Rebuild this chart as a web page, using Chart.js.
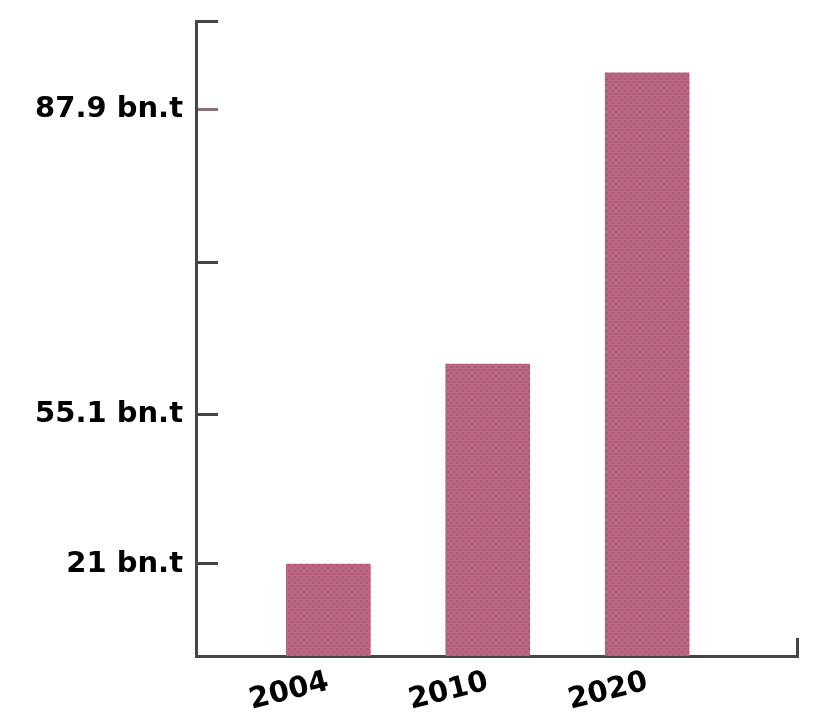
<!DOCTYPE html>
<html>
<head>
<meta charset="utf-8">
<script src="https://cdn.jsdelivr.net/npm/chart.js@4"></script>
<style>
  html, body { margin: 0; padding: 0; background: #fff; }
  #c { display: block; }
</style>
</head>
<body>
<canvas id="c" width="814" height="714"></canvas>
<script>
// data (y in the drawn scale units: 21 bn.t = 21)
const years = ['2004', '2010', '2020'];
const barValues = [21, 66.6, 133.1];
const yTickValues = [21, 55.1, 89.9, 124.6];
const yTickLabels = ['21 bn.t', '55.1 bn.t', '', '87.9 bn.t'];
const yMax = 144.9;
const xMin = -0.83, xMax = 2.94;

// dotted mauve fill like the print texture
function dotPattern() {
  const p = document.createElement('canvas');
  p.width = 6; p.height = 6;
  const g = p.getContext('2d');
  g.fillStyle = '#bb6784';
  g.fillRect(0, 0, 6, 6);
  g.fillStyle = '#a9566f';
  g.fillRect(0, 0, 2, 2);
  g.fillRect(3, 3, 2, 2);
  return g.createPattern(p, 'repeat');
}

const axisColor = '#474447';

new Chart(document.getElementById('c'), {
  type: 'bar',
  data: {
    datasets: [{
      data: barValues.map((v, i) => ({ x: i, y: v })),
      backgroundColor: dotPattern(),
      borderWidth: 0,
      barThickness: 84,
    }],
  },
  options: {
    responsive: false,
    animation: false,
    devicePixelRatio: 1,
    layout: { padding: { top: 21, right: 17, left: 32, bottom: 0 } },
    plugins: { legend: { display: false }, tooltip: { enabled: false } },
    scales: {
      x: {
        type: 'linear',
        offset: false,
        min: xMin, max: xMax,
        afterBuildTicks: s => { s.ticks = [0, 1, 2, xMax].map(v => ({ value: v })); },
        afterFit: s => { s.height = 58; s.paddingLeft = 0; s.paddingRight = 0; },
        border: { display: true, color: axisColor, width: 3 },
        grid: {
          offset: false,
          drawOnChartArea: false,
          tickLength: -18,
          tickWidth: 3,
          tickColor: ctx => ctx.index === 3 ? axisColor : 'rgba(0,0,0,0)',
        },
        ticks: {
          autoSkip: false,
          minRotation: 14, maxRotation: 14,
          padding: 27,
          color: '#000',
          font: { family: 'DejaVu Sans', weight: 'bold', size: 29 },
          callback: (v, i) => years[i] ?? '',
        },
      },
      y: {
        min: 0, max: yMax,
        afterBuildTicks: s => { s.ticks = yTickValues.concat(yMax).map(v => ({ value: v })); },
        afterFit: s => { s.width = 164; s.paddingTop = 0; s.paddingBottom = 0; },
        border: { display: true, color: axisColor, width: 3 },
        grid: {
          drawOnChartArea: false,
          tickLength: -22,
          tickWidth: 3,
          tickColor: ctx => ctx.index === 3 ? '#8a6f79' : axisColor,
        },
        ticks: {
          autoSkip: false,
          padding: 35,
          color: '#000',
          font: { family: 'DejaVu Sans', weight: 'bold', size: 29 },
          callback: (v, i) => yTickLabels[i] ?? '',
        },
      },
    },
  },
});
</script>
</body>
</html>
